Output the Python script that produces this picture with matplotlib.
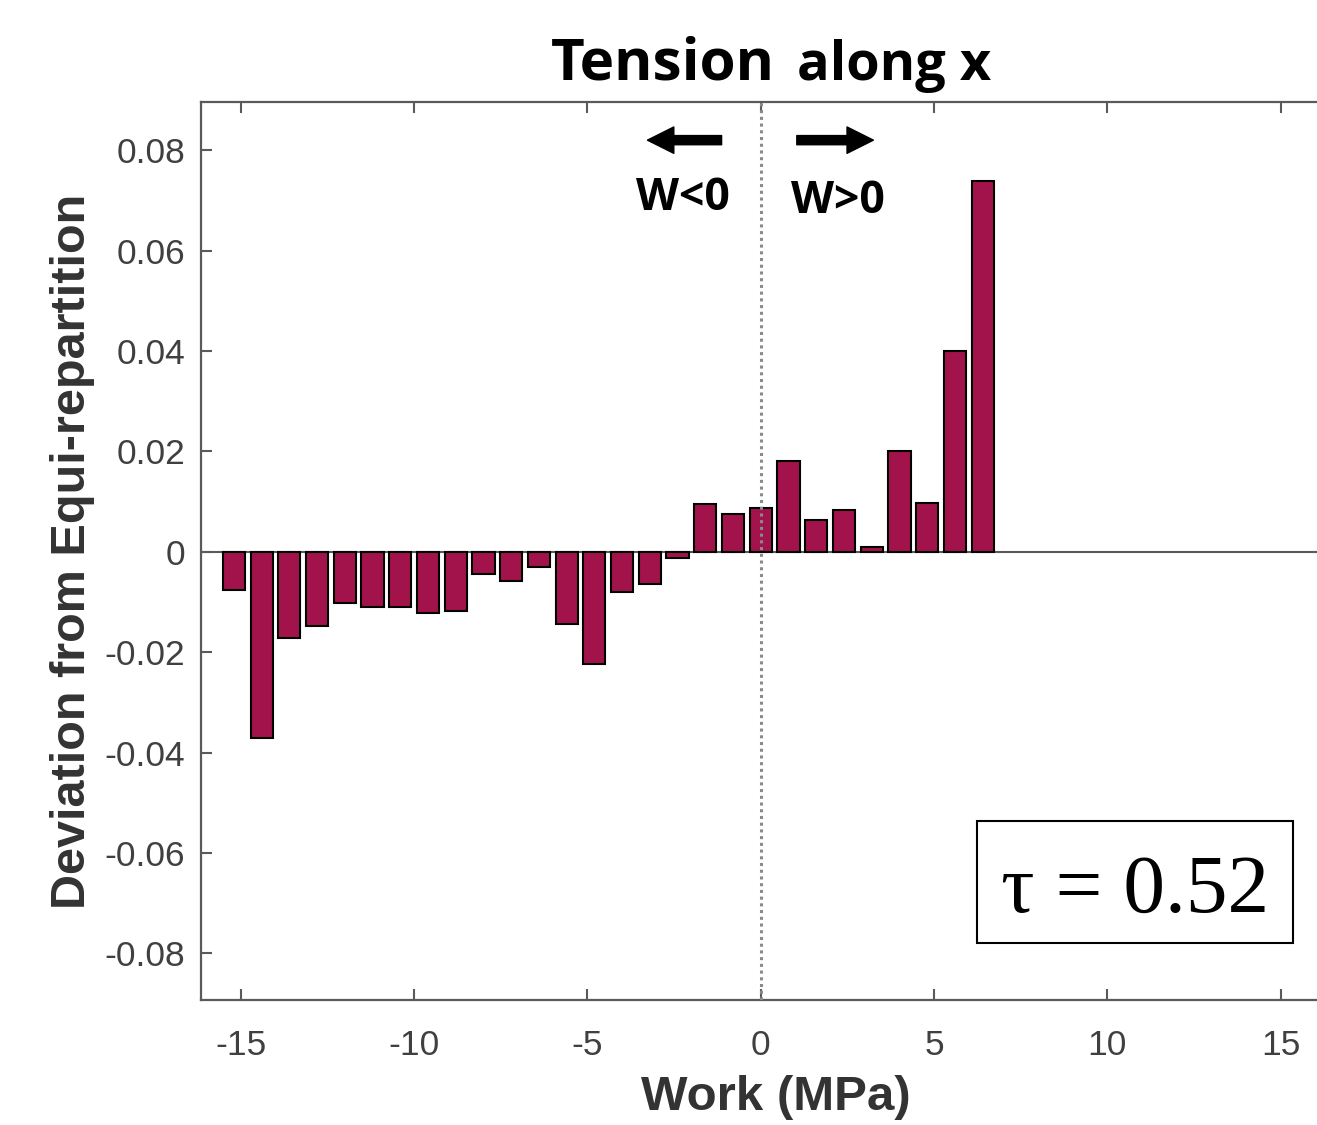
import numpy as np
import matplotlib.pyplot as plt
from matplotlib.patches import Rectangle

# bin centres (MPa), bin width 0.8
work_bins = np.arange(-19, 9) * 0.8
deviation = [
    -0.0076, -0.0371, -0.0172, -0.0147, -0.0102, -0.0110, -0.0110, -0.0122,
    -0.0119, -0.0045, -0.0058, -0.0030, -0.0144, -0.0224, -0.0080, -0.0064,
    -0.0013, 0.0096, 0.0075, 0.0088, 0.0181, 0.0064, 0.0084, 0.0009,
    0.0201, 0.0097, 0.0400, 0.0739,
]
x_ticks = [-15, -10, -5, 0, 5, 10, 15]
y_ticks = [-0.08, -0.06, -0.04, -0.02, 0, 0.02, 0.04, 0.06, 0.08]
y_ticklabels = ["-0.08", "-0.06", "-0.04", "-0.02", "0", "0.02", "0.04", "0.06", "0.08"]
tau = 0.52

BAR_COLOR = "#a3134b"
AXIS_GREY = "#5a5a5a"
TEXT_GREY = "#404040"


def main():
    fig = plt.figure(figsize=(13.17, 11.25), dpi=100)
    ax = fig.add_axes([201 / 1317, 125 / 1125, 1123 / 1317, 898 / 1125])

    ax.bar(work_bins, deviation, width=0.64, color=BAR_COLOR,
           edgecolor="black", linewidth=1.5, zorder=3)
    ax.axhline(0, color=AXIS_GREY, linewidth=1.5, zorder=2)
    ax.axvline(0, color="#8a8a8a", linestyle=(0, (1, 1.2)), linewidth=2.2, zorder=4)

    ax.set_xlim(-16.15, 16.25)
    ax.set_ylim(-0.0893, 0.0896)
    ax.set_xticks(x_ticks)
    ax.set_xticklabels([str(t) for t in x_ticks])
    ax.set_yticks(y_ticks)
    ax.set_yticklabels(y_ticklabels)

    for s in ax.spines.values():
        s.set_color(AXIS_GREY)
        s.set_linewidth(1.6)
    ax.spines["right"].set_visible(False)
    ax.tick_params(direction="in", length=8, width=1.5, color=AXIS_GREY,
                   top=True, labelsize=25.5, labelcolor=TEXT_GREY)
    ax.tick_params(axis="y", pad=11.5)
    ax.tick_params(axis="x", pad=21)
    for lbl in ax.get_xticklabels() + ax.get_yticklabels():
        lbl.set_family("Liberation Sans")

    ax.set_xlabel("Work (MPa)", fontsize=35.5, fontweight="bold",
                  family="Liberation Sans", color="#333333")
    ax.xaxis.set_label_coords(0.512, -0.083)
    ax.set_ylabel("Deviation from Equi-repartition", fontsize=35, fontweight="bold",
                  family="Liberation Sans", color="#333333", labelpad=7)

    # title in two sizes
    fig.text(775 / 1317, 1 - 80 / 1125, "Tension", ha="right", va="baseline",
             fontsize=42, fontweight="bold", family="Open Sans")
    fig.text(797 / 1317, 1 - 80 / 1125, "along x", ha="left", va="baseline",
             fontsize=39, fontweight="bold", family="Open Sans")

    # direction arrows and labels
    arrow = dict(arrowstyle="simple,head_length=0.95,head_width=0.95,tail_width=0.33",
                 color="black", shrinkA=0, shrinkB=0, mutation_scale=20)
    ax.annotate("", xy=(-3.27, 0.0820), xytext=(-1.13, 0.0820),
                arrowprops=arrow, annotation_clip=False)
    ax.annotate("", xy=(3.25, 0.0820), xytext=(1.04, 0.0820),
                arrowprops=arrow, annotation_clip=False)
    ax.text(-2.24, 0.0680, "W<0", ha="center", va="baseline",
            fontsize=32, fontweight="bold", family="Open Sans")
    ax.text(2.22, 0.0675, "W>0", ha="center", va="baseline",
            fontsize=32, fontweight="bold", family="Open Sans")

    # tau box
    fig.patches.append(Rectangle((977 / 1317, 1 - 943 / 1125), 316 / 1317, 122 / 1125,
                                 transform=fig.transFigure, fill=False,
                                 edgecolor="black", linewidth=1.5))
    fig.text(1135 / 1317, 1 - 892 / 1125, f"\u03c4 = {tau}", ha="center", va="center",
             fontsize=60, family="Liberation Serif")

    fig.savefig("out.png", dpi=100)


if __name__ == "__main__":
    main()
